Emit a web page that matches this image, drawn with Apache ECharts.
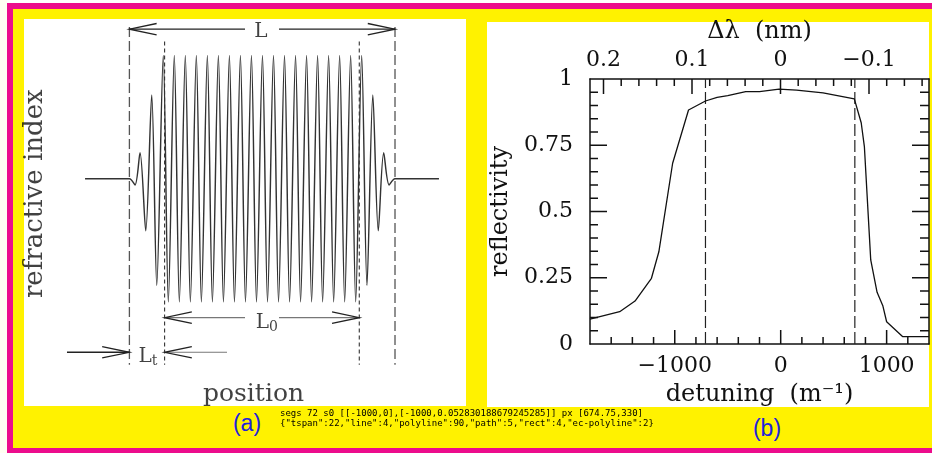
<!DOCTYPE html>
<html><head><meta charset="utf-8">
<script src="https://cdn.jsdelivr.net/npm/echarts@6/dist/echarts.min.js"></script>
<style>
html,body{margin:0;padding:0;width:932px;height:453px;overflow:hidden;background:#fff;}
.bg{position:absolute;}
#chart{position:absolute;left:0;top:0;width:932px;height:453px;}
#dbg{position:absolute;left:280px;top:408px;width:460px;height:40px;font:9px monospace;color:#000;white-space:pre-wrap;overflow:hidden;}
</style></head><body>
<div class="bg" style="left:0;top:0;width:7px;height:453px;background:#fffff2"></div>
<div class="bg" style="left:7px;top:3px;width:930px;height:450px;background:#ec0c8c"></div>
<div class="bg" style="left:13px;top:9px;width:925px;height:439px;background:#fff200"></div>
<div class="bg" style="left:24px;top:19px;width:442px;height:387px;background:#fff"></div>
<div class="bg" style="left:487px;top:22px;width:442px;height:385px;background:#fff"></div>
<div class="bg" style="left:227px;top:409px;width:40px;height:28px;font:23px 'Liberation Sans',Arial,sans-serif;color:#2222dd;text-align:center;line-height:28px">(a)</div>
<div class="bg" style="left:747px;top:414px;width:40px;height:28px;font:23px 'Liberation Sans',Arial,sans-serif;color:#2222dd;text-align:center;line-height:28px">(b)</div>
<div id="chart"></div>
<div id="dbg"></div>
<script>
// ---------- panel (b): reflectivity spectrum ----------
const detuning = [-1800, -1520, -1375, -1220, -1150, -1020, -870, -710, -600, -500, -330, -200, -15, 150, 400, 695, 760, 790, 850, 910, 965, 1000, 1150, 1400];
const reflectivity = [0.094, 0.122, 0.162, 0.248, 0.348, 0.682, 0.883, 0.917, 0.931, 0.937, 0.952, 0.952, 0.962, 0.958, 0.948, 0.925, 0.835, 0.745, 0.317, 0.195, 0.143, 0.084, 0.028, 0.028];
const bandEdges = [-710, 700];
const detuningRange = [-1800, 1400];
const detuningMajor = [-1000, 0, 1000];
const detuningMinor = [-1600, -1400, -1200, -800, -600, -400, -200, 200, 400, 600, 800, 1200];
const dlambdaMajor = [0.2, 0.1, 0, -0.1];
const dlambdaMinor = [0.18, 0.16, 0.14, 0.12, 0.08, 0.06, 0.04, 0.02, -0.02, -0.04, -0.06, -0.08, -0.12, -0.14, -0.16];
const reflMajor = [0.25, 0.5, 0.75];
const reflLabels = [0, 0.25, 0.5, 0.75, 1];
const reflMinor = [0.05, 0.1, 0.15, 0.2, 0.3, 0.35, 0.4, 0.45, 0.55, 0.6, 0.65, 0.7, 0.8, 0.85, 0.9, 0.95];

// ---------- panel (a): apodised grating profile (position in units of L/2) ----------
const gratingPos = [-1.334, -1.0, -0.958, -0.920, -0.877, -0.832, -0.794,
  -0.745, -0.707, -0.662, -0.624, -0.579, -0.541, -0.496, -0.458, -0.413, -0.375, -0.330, -0.292,
  -0.247, -0.209, -0.164, -0.126, -0.081, -0.043, 0.002, 0.040, 0.085, 0.123, 0.168, 0.206,
  0.251, 0.289, 0.334, 0.372, 0.417, 0.455, 0.500, 0.538, 0.583, 0.621, 0.666, 0.704, 0.749,
  0.789, 0.833, 0.874, 0.915, 0.956, 1.0, 1.331];
const gratingIndex = [0, 0, -0.051, 0.211, -0.423, 0.680, -0.865,
  1, -1, 1, -1, 1, -1, 1, -1, 1, -1, 1, -1,
  1, -1, 1, -1, 1, -1, 1, -1, 1, -1, 1, -1,
  1, -1, 1, -1, 1, -1, 1, -1, 1, -1, 1, -1, 1,
  -0.865, 0.680, -0.423, 0.211, -0.051, 0, 0];
const outerEdges = [-1.0, 1.0];
const innerEdges = [-0.735, 0.731];
const outerDashY = [1.23, -1.51];
const innerDashY = [1.113, -1.51];
const arrowY = {L: 1.213, L0: -1.128, Lt: -1.409};
const labelGap = [-0.1295, 0.1265];
const LtShaft = [-1.47, -0.265];
const texts = [
  {pos: [-0.009, 1.189], text: 'L', size: 20},
  {pos: [0.035, -1.167], text: '{m|L}{s|0}', size: 20},
  {pos: [-0.86, -1.444], text: '{m|L}{s|t}', size: 20},
  {pos: [-0.0655, -1.748], text: 'position', size: 25},
];

const SERIF = "'DejaVu Serif', 'Liberation Serif', serif";
const INK = '#111';
const fmtMinus = v => (v < 0 ? '\u2212' : '') + Math.abs(+(+v).toFixed(4));

const HEAD_LEN = 0.205, HEAD_HALF = 0.046;
function head(tipX, y, dir) {
  return [[tipX + dir * HEAD_LEN, y + HEAD_HALF], [tipX, y], [tipX + dir * HEAD_LEN, y - HEAD_HALF]];
}
const black = {color: '#222', width: 1.3, opacity: 1};
const grey = {color: '#777', width: 1.1, opacity: 1};
const arrowData = [
  {coords: [[outerEdges[0], arrowY.L], [labelGap[0], arrowY.L]], lineStyle: black},
  {coords: [[labelGap[1], arrowY.L], [outerEdges[1], arrowY.L]], lineStyle: black},
  {coords: head(outerEdges[0], arrowY.L, 1), lineStyle: black},
  {coords: head(outerEdges[1], arrowY.L, -1), lineStyle: black},
  {coords: [[innerEdges[0], arrowY.L0], [labelGap[0], arrowY.L0]], lineStyle: grey},
  {coords: [[labelGap[1], arrowY.L0], [innerEdges[1], arrowY.L0]], lineStyle: grey},
  {coords: head(innerEdges[0], arrowY.L0, 1), lineStyle: black},
  {coords: head(innerEdges[1], arrowY.L0, -1), lineStyle: black},
  {coords: [[LtShaft[0], arrowY.Lt], [outerEdges[0], arrowY.Lt]], lineStyle: black},
  {coords: head(outerEdges[0], arrowY.Lt, -1), lineStyle: black},
  {coords: [[LtShaft[1], arrowY.Lt], [innerEdges[0], arrowY.Lt]], lineStyle: grey},
  {coords: head(innerEdges[0], arrowY.Lt, 1), lineStyle: black},
];
const dashData = [
  ...outerEdges.map(x => ({coords: [[x, outerDashY[0]], [x, outerDashY[1]]], lineStyle: {color: '#555', width: 1.3, type: [10, 4], opacity: 1}})),
  ...innerEdges.map(x => ({coords: [[x, innerDashY[0]], [x, innerDashY[1]]], lineStyle: {color: '#333', width: 1.1, type: [4, 3], opacity: 1}})),
];

const B = {left: 590, top: 79, width: 339, height: 265};
const pxPerDet = B.width / (detuningRange[1] - detuningRange[0]);
const pxPerRefl = B.height;
const DL0PX = 780.5, PX_PER_NM = 885;
const dlToDet = l => (DL0PX - l * PX_PER_NM - B.left) / pxPerDet + detuningRange[0];
const dlambdaFull = [-(B.left + B.width - DL0PX) / PX_PER_NM, (DL0PX - B.left) / PX_PER_NM];

const tkY = len => len / pxPerRefl, tkX = len => len / pxPerDet;
const tickSegs = [
  ...detuningMajor.map(d => [[d, 0], [d, tkY(14)]]),
  ...detuningMinor.map(d => [[d, 0], [d, tkY(7)]]),
  ...dlambdaMajor.map(l => [[dlToDet(l), 1], [dlToDet(l), 1 - tkY(15)]]),
  ...dlambdaMinor.map(l => [[dlToDet(l), 1], [dlToDet(l), 1 - tkY(7)]]),
  ...reflMajor.map(r => [[detuningRange[0], r], [detuningRange[0] + tkX(17), r]]),
  ...reflMinor.map(r => [[detuningRange[0], r], [detuningRange[0] + tkX(8), r]]),
  ...reflMajor.map(r => [[detuningRange[1], r], [detuningRange[1] - tkX(17), r]]),
  ...reflMinor.map(r => [[detuningRange[1], r], [detuningRange[1] - tkX(9), r]]),
];

const labelSt = {fontFamily: SERIF, fontSize: 22, color: INK};
const nameSt = {fontFamily: SERIF, fontSize: 24, color: INK};
function ax(extra) {
  return Object.assign({
    type: 'value', gridIndex: 0, splitLine: {show: false},
    axisLine: {show: true, onZero: false, lineStyle: {color: INK, width: 1.5}},
    axisTick: {show: false},
    axisLabel: {show: false},
  }, extra);
}

const option = {
  animation: false,
  grid: [Object.assign({}, B), {left: 24, top: 19, width: 442, height: 387}],
  xAxis: [
    ax({position: 'bottom', min: detuningRange[0], max: detuningRange[1],
      axisLabel: Object.assign({show: true, customValues: detuningMajor, margin: 11, formatter: fmtMinus}, labelSt),
      name: 'detuning  (m\u207B\u00B9)', nameLocation: 'middle', nameGap: 39, nameTextStyle: nameSt}),
    ax({position: 'top', min: dlambdaFull[0], max: dlambdaFull[1], inverse: true,
      axisLabel: Object.assign({show: true, customValues: dlambdaMajor, margin: 8, formatter: fmtMinus}, labelSt),
      name: '\u0394\u03BB  (nm)', nameLocation: 'middle', nameGap: 34, nameTextStyle: nameSt}),
    {type: 'value', gridIndex: 1, min: -1.7937, max: 1.5346, show: false}
  ],
  yAxis: [
    ax({position: 'left', min: 0, max: 1,
      axisLabel: Object.assign({show: true, customValues: reflLabels, margin: 17}, labelSt),
      name: 'reflectivity', nameLocation: 'middle', nameGap: 77, nameTextStyle: nameSt}),
    ax({position: 'right', min: 0, max: 1}),
    {type: 'value', gridIndex: 1, min: -1.845, max: 1.2956, show: false}
  ],
  series: [
    {type: 'line', xAxisIndex: 0, yAxisIndex: 0, symbol: 'none', silent: true,
      data: detuning.map((d, i) => [d, reflectivity[i]]),
      lineStyle: {color: INK, width: 1.3}},
    {type: 'lines', coordinateSystem: 'cartesian2d', xAxisIndex: 0, yAxisIndex: 0, polyline: true, silent: true,
      data: bandEdges.map(x => ({coords: [[x, 0], [x, 1]]})),
      lineStyle: {color: '#222', width: 1.2, type: [12, 4], opacity: 1}},
    {type: 'lines', coordinateSystem: 'cartesian2d', xAxisIndex: 0, yAxisIndex: 0, polyline: true, silent: true,
      data: tickSegs.map(c => ({coords: c})),
      lineStyle: {color: INK, width: 1.5, opacity: 1}},
    {type: 'line', xAxisIndex: 2, yAxisIndex: 2, symbol: 'none', silent: true, smooth: 0.3,
      data: gratingPos.map((p, i) => [p, gratingIndex[i]]),
      lineStyle: {color: '#333', width: 1.45}},
    {type: 'lines', coordinateSystem: 'cartesian2d', xAxisIndex: 2, yAxisIndex: 2, polyline: true, silent: true,
      data: dashData},
    {type: 'lines', coordinateSystem: 'cartesian2d', xAxisIndex: 2, yAxisIndex: 2, polyline: true, silent: true,
      data: arrowData},
    {type: 'scatter', xAxisIndex: 2, yAxisIndex: 2, symbolSize: 0, silent: true,
      data: texts.map(t => ({value: t.pos, name: t.text, label: {fontSize: t.size}})),
      label: {show: true, position: 'inside', formatter: p => p.name, fontFamily: SERIF, fontSize: 20, color: INK,
        rich: {m: {fontFamily: SERIF, fontSize: 20, color: INK, lineHeight: 24},
               s: {fontFamily: SERIF, fontSize: 14, color: INK, lineHeight: 8, verticalAlign: 'bottom'}}}},
    {type: 'scatter', xAxisIndex: 2, yAxisIndex: 2, symbolSize: 0, silent: true,
      data: [{value: [-1.707, -0.122], name: 'refractive index'}],
      label: {show: true, position: 'inside', rotate: 90, formatter: p => p.name, fontFamily: SERIF, fontSize: 26, color: INK}}
  ]
};

const chart = echarts.init(document.getElementById('chart'), null, {renderer: 'canvas'});
chart.setOption(option);
try {
  const segs = tickSegs.length;
  const s0 = JSON.stringify(tickSegs[0]);
  const px = chart.convertToPixel({xAxisIndex: 0, yAxisIndex: 0}, tickSegs[0][1]);
  const els = chart.getZr().storage.getDisplayList(true);
  const cnt = {}; els.forEach(e => { cnt[e.type] = (cnt[e.type] || 0) + 1; });
  document.getElementById('dbg').textContent = 'segs ' + segs + ' s0 ' + s0 + ' px ' + JSON.stringify(px) + '\n' + JSON.stringify(cnt);
} catch (e) { document.getElementById('dbg').textContent = 'ERR ' + e.message; }
</script>
</body></html>
